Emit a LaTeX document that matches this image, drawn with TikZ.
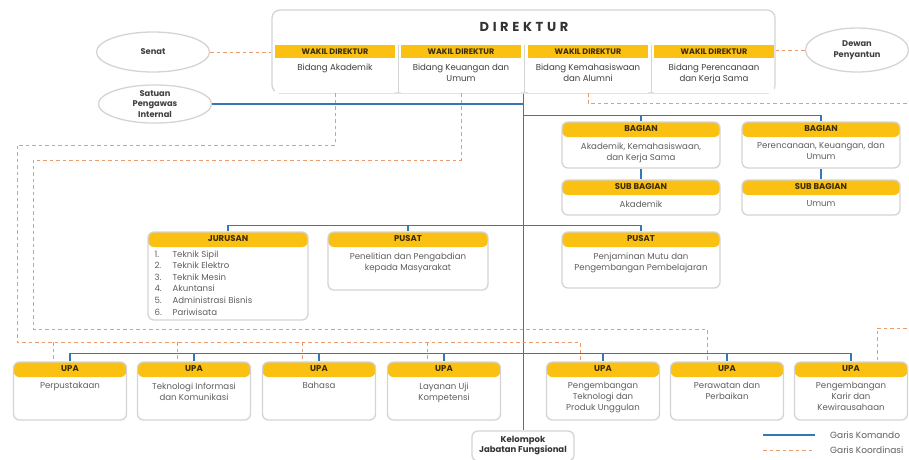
\documentclass[tikz,border=0pt]{standalone}
\usepackage{fontspec}
\setmainfont{Poppins}
\newfontfamily\titlefont[LetterSpace=28]{Poppins}
\usetikzlibrary{positioning,calc,shapes.geometric}
\definecolor{komando}{RGB}{52,120,180}
\definecolor{koordinasi}{RGB}{232,155,108}
\definecolor{bar}{RGB}{250,192,18}
\definecolor{bartext}{RGB}{60,45,10}
\definecolor{bodytext}{RGB}{95,95,95}
\definecolor{edge}{RGB}{212,212,212}
\tikzset{
  % lines
  cstkom/.style   ={komando, line width=1.1pt},
  cstkoor/.style  ={koordinasi, line width=0.9pt, dash pattern=on 3.5pt off 3pt},
  cstsep/.style   ={edge, line width=1pt},
  % boxes
  cstcard/.style  ={draw=edge, fill=white, rounded corners=6pt, line width=1.3pt, inner sep=0pt,
    path picture={\fill[bar] ([yshift=2pt]path picture bounding box.north west) rectangle ([yshift=-15pt]path picture bounding box.north east);}},
  cstwakil/.style ={fill=white, minimum width=120pt, minimum height=48pt, inner sep=0pt,
    path picture={\fill[bar] (path picture bounding box.north west) rectangle ([yshift=-12.5pt]path picture bounding box.north east);}},
  cstframe/.style ={draw=edge, fill=white, rounded corners=8pt, line width=1.3pt},
  % text
  csttitle/.style ={font=\bfseries\fontsize{8.5}{9}\selectfont, text=bartext, inner sep=0pt},
  cstbody/.style  ={font=\fontsize{8.6}{11}\selectfont, text=bodytext, align=center, anchor=north, inner sep=0pt},
  cstoval/.style  ={ellipse, draw=edge, fill=white, line width=1.3pt, inner sep=0pt,
    font=\bfseries\fontsize{8.3}{10.5}\selectfont, text=black!75, align=center},
  cstlegend/.style={font=\fontsize{9}{10}\selectfont, text=bodytext, anchor=west, inner sep=0pt}
}
% card with yellow head: name, centre, width, height, head, text
\newcommand{\orgbox}[6]{%
  \node[cstcard, minimum width=#3, minimum height=#4] (#1) at (#2) {};
  \node[csttitle] at ([yshift=-7.5pt]#1.north) {#5};
  \node[cstbody] at ([yshift=-21pt]#1.north) {#6};
}

\begin{document}
\begin{tikzpicture}[x=1pt,y=-1pt]
\useasboundingbox (0,0) rectangle (909,459);

% direktur
\node[cstframe, minimum width=503pt, minimum height=83pt] (dir) at (523.5,51.5) {};
\node[font=\titlefont\bfseries\fontsize{13}{15}\selectfont, text=black!80] (dirtitle) at (524,27) {DIREKTUR};
\foreach \i/\x/\txt in {1/335/{Bidang Akademik},2/461/{Bidang Keuangan dan\\Umum},
    3/588/{Bidang Kemahasiswaan\\dan Alumni},4/714/{Bidang Perencanaan\\dan Kerja Sama}}{
  \node[cstwakil] (w\i) at (\x,69) {};
  \node[csttitle, font=\bfseries\fontsize{8}{9}\selectfont] at ([yshift=-6.5pt]w\i.north) {WAKIL DIREKTUR};
  \node[cstbody, text=black!75] at ([yshift=-19pt]w\i.north) {\txt};
}
\foreach \a/\b in {1/2,2/3,3/4}
  \draw[cstsep] ($(w\a.north east)!.5!(w\b.north west)$) -- ($(w\a.south east)!.5!(w\b.south west)$);

% ovals
\node[cstoval, minimum width=113pt, minimum height=40pt] (senat) at (153,52) {Senat};
\node[cstoval, minimum width=113pt, minimum height=38pt] (spi) at (155,104) {Satuan\\Pengawas\\Internal};
\node[cstoval, minimum width=103pt, minimum height=44pt] (dewan) at (857,50) {Dewan\\Penyantun};

% bagian
\orgbox{bag1}{641,145}{158pt}{46pt}{BAGIAN}{Akademik, Kemahasiswaan,\\dan Kerja Sama}
\orgbox{sub1}{641,197.5}{158pt}{35pt}{SUB BAGIAN}{Akademik}
\orgbox{bag2}{821,145}{158pt}{46pt}{BAGIAN}{Perencanaan, Keuangan, dan\\Umum}
\orgbox{sub2}{821,197.5}{158pt}{35pt}{SUB BAGIAN}{Umum}

% jurusan dan pusat
\node[cstcard, minimum width=160pt, minimum height=88pt] (jur) at (228,276) {};
\node[csttitle] at ([yshift=-7.5pt]jur.north) {JURUSAN};
\node[cstbody, align=left, anchor=north west, font=\fontsize{8.6}{11.6}\selectfont] (jurlist) at ([xshift=7pt,yshift=-19pt]jur.north west)
  {\makebox[18pt][l]{1.}Teknik Sipil\\\makebox[18pt][l]{2.}Teknik Elektro\\\makebox[18pt][l]{3.}Teknik Mesin\\
   \makebox[18pt][l]{4.}Akuntansi\\\makebox[18pt][l]{5.}Administrasi Bisnis\\\makebox[18pt][l]{6.}Pariwisata};
\orgbox{pus1}{408,261}{160pt}{58pt}{PUSAT}{Penelitian dan Pengabdian\\kepada Masyarakat}
\orgbox{pus2}{641,260}{158pt}{56pt}{PUSAT}{Penjaminan Mutu dan\\Pengembangan Pembelajaran}

% upa
\orgbox{upa1}{70,391}{113pt}{58pt}{UPA}{Perpustakaan}
\orgbox{upa2}{194,391}{113pt}{58pt}{UPA}{Teknologi Informasi\\dan Komunikasi}
\orgbox{upa3}{319,391}{113pt}{58pt}{UPA}{Bahasa}
\orgbox{upa4}{444,391}{113pt}{58pt}{UPA}{Layanan Uji\\Kompetensi}
\orgbox{upa5}{603,391}{113pt}{58pt}{UPA}{Pengembangan\\Teknologi dan\\Produk Unggulan}
\orgbox{upa6}{727,391}{113pt}{58pt}{UPA}{Perawatan dan\\Perbaikan}
\orgbox{upa7}{851,391}{113pt}{58pt}{UPA}{Pengembangan\\Karir dan\\Kewirausahaan}

\node[cstframe, rounded corners=6pt, minimum width=102pt, minimum height=30pt, align=center,
  font=\bfseries\fontsize{8.5}{10}\selectfont, text=black!80] (kjf) at (523,446) {Kelompok\\Jabatan Fungsional};

% garis komando
\draw[cstkom] (dir.south) -- (dir.south |- kjf.north);
\draw[cstkom] (spi) -- (spi -| dir.south);
\coordinate (kb) at ($(dir.south)+(0,22)$);
\draw[cstkom] (kb) -| (bag2.north);
\draw[cstkom] (bag1.north |- kb) -- (bag1.north);
\draw[cstkom] (bag1) -- (sub1);
\draw[cstkom] (bag2) -- (sub2);
\coordinate (kp) at ($(dir.south)+(0,132)$);
\draw[cstkom] (jur.north) |- (kp) -| (pus2.north);
\draw[cstkom] (pus1.north |- kp) -- (pus1.north);
\coordinate (ku) at ($(dir.south)+(0,260)$);
\draw[cstkom] (upa1.north) |- (ku) -| (upa7.north);
\foreach \i in {2,...,6}
  \draw[cstkom] (upa\i.north |- ku) -- (upa\i.north);

% garis koordinasi
\draw[cstkoor] (senat) -- (senat -| dir.west);
\draw[cstkoor] (dewan) -- (dewan -| dir.east);
\foreach \i in {1,...,4}
  \coordinate (d\i) at ([xshift=-17pt]upa\i.north);
\coordinate (d5) at ([xshift=-23pt]upa5.north);
\coordinate (d6) at ([xshift=-20pt]upa6.north);
\coordinate (d7) at ([xshift=26pt]upa7.north);
\coordinate (k1) at (17,145);
\coordinate (k1b) at (17,342);
\draw[cstkoor] (w1.south) |- (k1) -- (k1b) -| (d5);
\foreach \i in {1,...,4}
  \draw[cstkoor] (d\i |- k1b) -- (d\i);
\coordinate (k2) at (33,160);
\coordinate (k2b) at (33,329);
\draw[cstkoor] (w2.south) |- (k2) -- (k2b) -| (d6);
\coordinate (k3) at (916,103);
\coordinate (k3b) at (916,328);
\draw[cstkoor] (w3.south) |- (k3) -- (k3b) -| (d7);

% legend
\node[cstlegend] (lkom) at (830,435) {Garis Komando};
\node[cstlegend] (lkoor) at (830,450) {Garis Koordinasi};
\draw[cstkom] ([xshift=-67pt]lkom.west) -- ([xshift=-15pt]lkom.west);
\draw[cstkoor] ([xshift=-67pt]lkoor.west) -- ([xshift=-15pt]lkoor.west);
\end{tikzpicture}
\end{document}
